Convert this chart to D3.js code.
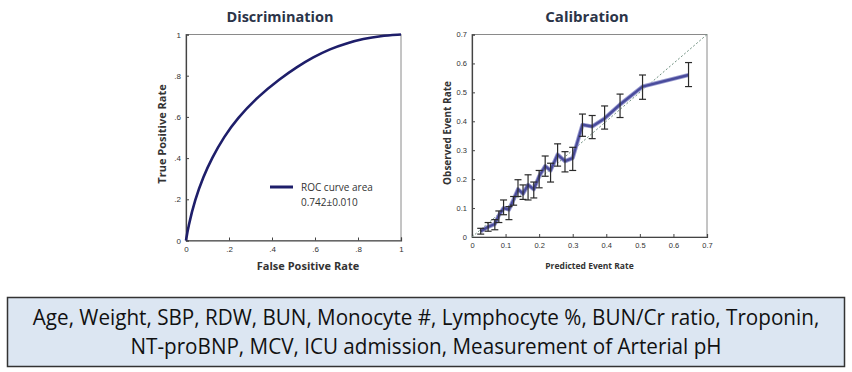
<!DOCTYPE html>
<html>
<head>
<meta charset="utf-8">
<script src="https://cdn.jsdelivr.net/npm/d3@7/dist/d3.min.js"></script>
<style>
  body { margin: 0; background: #fff; }
  svg { display: block; }
</style>
</head>
<body>
<svg></svg>
<script>
const width = 852;
const height = 372;

// ROC curve
const rocFpr = [0, 0.01, 0.042, 0.081, 0.12, 0.178, 0.236, 0.336, 0.437, 0.515, 0.592, 0.67, 0.747, 0.825, 0.902, 1];
const rocTpr = [0, 0.065, 0.2, 0.31, 0.4, 0.505, 0.59, 0.7, 0.785, 0.842, 0.89, 0.93, 0.958, 0.979, 0.993, 1];
const rocTicks = [0, 0.2, 0.4, 0.6, 0.8, 1];
const rocTickLabels = ["0", ".2", ".4", ".6", ".8", "1"];

// calibration points with error bars
const calPred = [0.026, 0.048, 0.068, 0.08, 0.094, 0.11, 0.124, 0.137, 0.152, 0.167, 0.184, 0.2, 0.218, 0.234, 0.255, 0.277, 0.3, 0.329, 0.358, 0.395, 0.441, 0.508, 0.645];
const calObs = [0.02, 0.035, 0.045, 0.075, 0.1, 0.095, 0.13, 0.165, 0.15, 0.18, 0.165, 0.21, 0.245, 0.23, 0.285, 0.262, 0.273, 0.388, 0.382, 0.41, 0.458, 0.52, 0.56];
const calLow = [0.01, 0.02, 0.025, 0.05, 0.077, 0.06, 0.11, 0.14, 0.13, 0.128, 0.135, 0.17, 0.21, 0.19, 0.245, 0.225, 0.23, 0.348, 0.34, 0.373, 0.413, 0.476, 0.52];
const calHigh = [0.03, 0.05, 0.06, 0.09, 0.128, 0.105, 0.14, 0.198, 0.18, 0.215, 0.19, 0.23, 0.28, 0.255, 0.322, 0.295, 0.31, 0.425, 0.42, 0.453, 0.494, 0.56, 0.603];
const calTicks = [0, 0.1, 0.2, 0.3, 0.4, 0.5, 0.6, 0.7];
const calTickLabels = ["0", "0.1", "0.2", "0.3", "0.4", "0.5", "0.6", "0.7"];

const predictorLines = [
  "Age, Weight, SBP, RDW, BUN, Monocyte #, Lymphocyte %, BUN/Cr ratio, Troponin,",
  "NT-proBNP, MCV, ICU admission, Measurement of Arterial pH",
];

const svg = d3.select("svg").attr("width", width).attr("height", height)
  .style("font-family", "'Open Sans', sans-serif");

const titleColor = "#2b3448";

// draw a framed panel with inward ticks
function panel(x, y, ticks, labels) {
  const g = svg.append("g");
  const [x0, x1] = x.range();
  const [y0, y1] = y.range();

  g.append("rect")
    .attr("x", x0).attr("y", y1)
    .attr("width", x1 - x0).attr("height", y0 - y1)
    .attr("fill", "none").attr("stroke", "#8a8a8a").attr("stroke-width", 1);

  const ax = g.append("g").attr("transform", `translate(0,${y0})`)
    .call(d3.axisBottom(x).tickValues(ticks).tickSize(-3).tickPadding(6)
      .tickFormat((d, i) => labels[i]));
  const ay = g.append("g").attr("transform", `translate(${x0},0)`)
    .call(d3.axisLeft(y).tickValues(ticks).tickSize(-3).tickPadding(5)
      .tickFormat((d, i) => labels[i]));

  [ax, ay].forEach((a) => {
    a.select(".domain").attr("stroke", "#444").attr("stroke-width", 1.2);
    a.selectAll(".tick line").attr("stroke", "#444");
    a.selectAll("text").attr("fill", "#333").style("font-size", "8px");
  });
  return g;
}

// ---- Discrimination ----
const rx = d3.scaleLinear().domain([0, 1]).range([186, 401]);
const ry = d3.scaleLinear().domain([0, 1]).range([240.5, 34.5]);
const roc = panel(rx, ry, rocTicks, rocTickLabels);

const rocData = rocFpr.map((f, i) => [f, rocTpr[i]]);
roc.append("path")
  .datum(rocData)
  .attr("fill", "none")
  .attr("stroke", "#1e1e6a")
  .attr("stroke-width", 2.6)
  .attr("d", d3.line().x((d) => rx(d[0])).y((d) => ry(d[1])).curve(d3.curveBasis));

roc.append("line")
  .attr("x1", 270).attr("x2", 293).attr("y1", 187).attr("y2", 187)
  .attr("stroke", "#1e1e6a").attr("stroke-width", 3);
roc.append("text").attr("x", 301).attr("y", 191)
  .attr("fill", "#333").style("font-size", "10px").text("ROC curve area");
roc.append("text").attr("x", 301).attr("y", 205.5)
  .attr("fill", "#333").style("font-size", "10px").text("0.742±0.010");

svg.append("text").attr("x", 280).attr("y", 22).attr("text-anchor", "middle")
  .attr("fill", titleColor).style("font-size", "14.5px").style("font-weight", "bold")
  .text("Discrimination");
svg.append("text").attr("x", 308).attr("y", 270).attr("text-anchor", "middle")
  .attr("fill", "#333").style("font-size", "11px").style("font-weight", "bold")
  .text("False Positive Rate");
svg.append("text").attr("transform", "translate(166,134) rotate(-90)").attr("text-anchor", "middle")
  .attr("fill", "#333").style("font-size", "11px").style("font-weight", "bold")
  .text("True Positive Rate");

// ---- Calibration ----
const cx = d3.scaleLinear().domain([0, 0.7]).range([472, 707]);
const cy = d3.scaleLinear().domain([0, 0.7]).range([237, 34.5]);
const cal = panel(cx, cy, calTicks, calTickLabels);
cal.selectAll(".tick text").style("font-size", "7.5px");

cal.append("line")
  .attr("x1", cx(0)).attr("y1", cy(0)).attr("x2", cx(0.7)).attr("y2", cy(0.7))
  .attr("stroke", "#6f9080").attr("stroke-width", 1).attr("stroke-dasharray", "2,2");

const calData = calPred.map((p, i) => ({ p, o: calObs[i], lo: calLow[i], hi: calHigh[i] }));

const calLine = d3.line().x((d) => cx(d.p)).y((d) => cy(d.o));
cal.append("path").datum(calData)
  .attr("fill", "none").attr("stroke", "#9a9cd0").attr("stroke-width", 4.2)
  .attr("stroke-linejoin", "round").attr("d", calLine);
cal.append("path").datum(calData)
  .attr("fill", "none").attr("stroke", "#4a4c9c").attr("stroke-width", 2.4)
  .attr("stroke-linejoin", "round").attr("d", calLine);

const bars = cal.append("g").attr("stroke", "#2a2a2a").attr("stroke-width", 1.2)
  .selectAll("g").data(calData).join("g");
bars.append("line")
  .attr("x1", (d) => cx(d.p)).attr("x2", (d) => cx(d.p))
  .attr("y1", (d) => cy(d.lo)).attr("y2", (d) => cy(d.hi));
bars.append("line")
  .attr("x1", (d) => cx(d.p) - 3.5).attr("x2", (d) => cx(d.p) + 3.5)
  .attr("y1", (d) => cy(d.lo)).attr("y2", (d) => cy(d.lo));
bars.append("line")
  .attr("x1", (d) => cx(d.p) - 3.5).attr("x2", (d) => cx(d.p) + 3.5)
  .attr("y1", (d) => cy(d.hi)).attr("y2", (d) => cy(d.hi));

svg.append("text").attr("x", 587).attr("y", 22).attr("text-anchor", "middle")
  .attr("fill", titleColor).style("font-size", "15px").style("font-weight", "bold")
  .text("Calibration");
svg.append("text").attr("x", 589.5).attr("y", 269).attr("text-anchor", "middle")
  .attr("fill", "#333").style("font-size", "8.5px").style("font-weight", "bold")
  .text("Predicted Event Rate");
svg.append("text").attr("transform", "translate(451,133) rotate(-90)").attr("text-anchor", "middle")
  .attr("fill", "#333").style("font-size", "10px").style("font-weight", "bold")
  .text("Observed Event Rate");

// ---- predictor box ----
svg.append("rect")
  .attr("x", 7.5).attr("y", 297.5).attr("width", 837).attr("height", 69)
  .attr("fill", "#dce6f2").attr("stroke", "#333").attr("stroke-width", 1.5);

// the slide font is narrower than Open Sans, so squeeze the lines horizontally
const boxText = svg.append("g").attr("fill", "#111");
const lineY = [325, 354];
const fs = 22;
const line1 = boxText.append("text").attr("x", 0).attr("y", lineY[0])
  .attr("text-anchor", "middle").style("font-size", fs + "px").text(predictorLines[0]);
const sx = 787 / line1.node().getComputedTextLength();
boxText.append("text").attr("x", 0).attr("y", lineY[1])
  .attr("text-anchor", "middle").style("font-size", fs + "px").text(predictorLines[1]);
boxText.attr("transform", `translate(426,0) scale(${sx},1)`);
</script>
</body>
</html>
